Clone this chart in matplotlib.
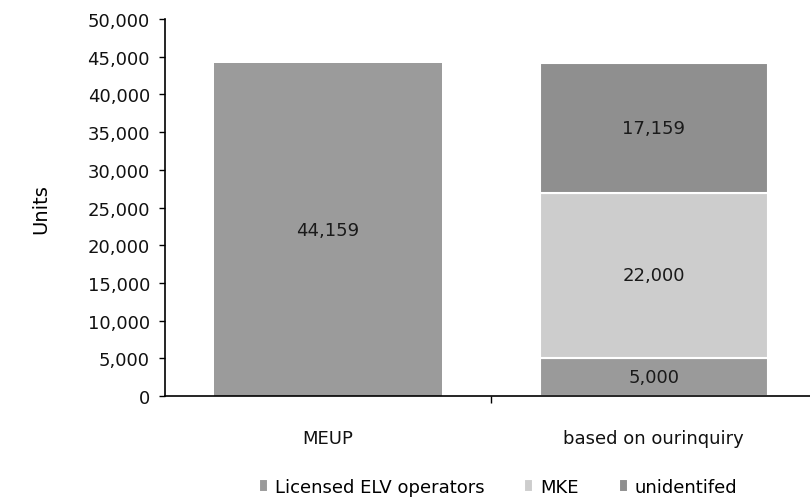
import matplotlib.pyplot as plt
from matplotlib.ticker import FuncFormatter, FixedLocator

plt.rcParams["font.family"] = ["DejaVu Sans"]

# --- Data ---
categories = ["MEUP", "based on ourinquiry"]
meup_total = [44159, 0]
licensed_elv = [0, 5000]
mke = [0, 22000]
unidentified = [0, 17159]

fig = plt.figure(figsize=(8.10, 5.02), dpi=100)
ax = fig.add_axes([0.204, 0.209, 0.796, 0.751])

x = [0, 1]
width = 0.70

# MEUP single bar
ax.bar(x[0], meup_total[0], width, color="#9b9b9b", edgecolor="none")

# stacked bar from inquiry
b1 = ax.bar(x[1], licensed_elv[1], width, color="#9a9a9a",
            edgecolor="white", linewidth=1.5, label="Licensed ELV operators")
b2 = ax.bar(x[1], mke[1], width, bottom=licensed_elv[1], color="#cdcdcd",
            edgecolor="white", linewidth=1.5, label="MKE")
b3 = ax.bar(x[1], unidentified[1], width,
            bottom=licensed_elv[1] + mke[1], color="#8f8f8f",
            edgecolor="white", linewidth=1.5, label="unidentifed")

# value labels
ax.text(x[0], meup_total[0] / 2, f"{meup_total[0]:,}", ha="center",
        va="center", fontsize=13, color="#1a1a1a")
bottom = 0
for vals in (licensed_elv, mke, unidentified):
    ax.text(x[1], bottom + vals[1] / 2, f"{vals[1]:,}", ha="center",
            va="center", fontsize=13, color="#1a1a1a")
    bottom += vals[1]

ax.set_ylim(0, 50000)
ax.set_xlim(-0.5, 1.48)
ax.set_yticks(range(0, 50001, 5000))
ax.yaxis.set_major_formatter(FuncFormatter(lambda v, p: f"{int(v):,}"))
ax.tick_params(axis="y", labelsize=13, length=4, width=1, pad=7,
               labelcolor="#111111")

ax.set_xticks(x)
ax.set_xticklabels(categories)
ax.tick_params(axis="x", which="major", length=0, labelsize=13, pad=24,
               labelcolor="#111111")
ax.xaxis.set_minor_locator(FixedLocator([0.5]))
ax.tick_params(axis="x", which="minor", length=5, width=1)

ax.set_ylabel("Units", fontsize=14, labelpad=27)

for side in ("top", "right"):
    ax.spines[side].set_visible(False)
ax.spines["left"].set_linewidth(1.2)
ax.spines["bottom"].set_linewidth(1.2)

fig.legend(handles=[b1, b2, b3], loc="lower center",
           bbox_to_anchor=(0.615, -0.022), ncol=3, frameon=False,
           fontsize=13, handlelength=0.5, handleheight=0.7,
           handletextpad=0.4, columnspacing=2.2)

fig.savefig("out.png", dpi=100)
